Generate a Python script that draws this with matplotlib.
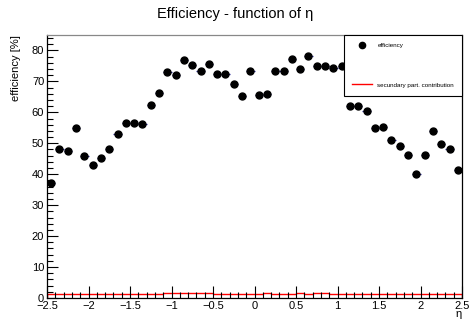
import numpy as np
import matplotlib
matplotlib.use("Agg")
import matplotlib.pyplot as plt
from matplotlib.ticker import MultipleLocator

plt.rcParams["font.family"] = ["Liberation Sans", "DejaVu Sans"]

# eta bins: 50 bins of width 0.1 between -2.5 and 2.5
bin_edges = np.linspace(-2.5, 2.5, 51)
eta = 0.5 * (bin_edges[:-1] + bin_edges[1:])

efficiency = [
    37.1, 48.1, 47.6, 54.8, 45.9, 43.0, 45.4, 48.3, 53.0, 56.6,
    56.6, 56.2, 62.4, 66.3, 72.9, 72.2, 77.0, 75.3, 73.5, 75.7,
    72.5, 72.4, 69.1, 65.3, 73.3, 65.6, 65.8, 73.3, 73.3, 77.1,
    73.9, 78.2, 74.9, 74.9, 74.2, 74.9, 62.0, 62.0, 60.5, 55.1,
    55.3, 51.2, 49.1, 46.1, 40.0, 46.3, 54.0, 49.9, 48.3, 41.4,
]
eff_err = [0.4] * 50

secondary = [
    1.3, 1.3, 1.3, 1.3, 1.3, 1.3, 1.3, 1.3, 1.3, 1.3,
    1.3, 1.3, 1.3, 1.3, 1.6, 1.6, 1.6, 1.6, 1.6, 1.6,
    1.3, 1.3, 1.3, 1.3, 1.3, 1.3, 1.6, 1.3, 1.3, 1.3,
    1.6, 1.3, 1.6, 1.6, 1.3, 1.3, 1.4, 1.4, 1.4, 1.4,
    1.4, 1.4, 1.4, 1.4, 1.4, 1.4, 1.4, 1.4, 1.4, 1.4,
]

fig = plt.figure(figsize=(4.71, 3.21), dpi=100)
ax = fig.add_axes([0.0998, 0.0717, 0.8812, 0.8193])

ax.stairs(secondary, bin_edges, color="#ff0000", lw=1.0,
          label="secundary part. contribution")
ax.errorbar(eta, efficiency, xerr=0.05, yerr=eff_err, fmt="none",
            ecolor="#2a2a9a", elinewidth=0.9)
ax.plot(eta, efficiency, "o", color="black", ms=5, label="efficiency")

ax.set_xlim(-2.5, 2.5)
ax.set_ylim(0, 85)
ax.xaxis.set_major_locator(MultipleLocator(0.5))
ax.xaxis.set_minor_locator(MultipleLocator(0.1))
ax.yaxis.set_major_locator(MultipleLocator(10))
ax.yaxis.set_minor_locator(MultipleLocator(2))
ax.tick_params(which="both", direction="in", labelsize=8, pad=2, width=0.8)
ax.tick_params(which="major", length=8)
ax.tick_params(which="minor", length=4)
ax.tick_params(axis="x", which="major", length=9)
ax.set_xticks(np.arange(-2.5, 2.51, 0.5))
ax.set_xticklabels(["\u22122.5", "\u22122", "\u22121.5", "\u22121", "\u22120.5",
                    "0", "0.5", "1", "1.5", "2", "2.5"])
for s in ax.spines.values():
    s.set_linewidth(0.9)
ax.spines["top"].set_color("#888888")

ax.set_ylabel("efficiency [%]", fontsize=8, loc="top", labelpad=8)
ax.set_xlabel("\u03b7", fontsize=8, loc="right", labelpad=-1)
fig.text(0.5, 0.955, "Efficiency - function of \u03b7", ha="center", va="center",
         fontsize=10.5)

handles, labels = ax.get_legend_handles_labels()
leg = ax.legend(handles[::-1], labels[::-1], loc="upper right", fontsize=4.5,
                frameon=True, fancybox=False, edgecolor="black",
                framealpha=1.0, borderaxespad=0, labelspacing=5.4,
                handlelength=3.2, borderpad=1.3, markerscale=0.9)
leg.get_frame().set_linewidth(0.8)

fig.savefig("out.png", dpi=100)
